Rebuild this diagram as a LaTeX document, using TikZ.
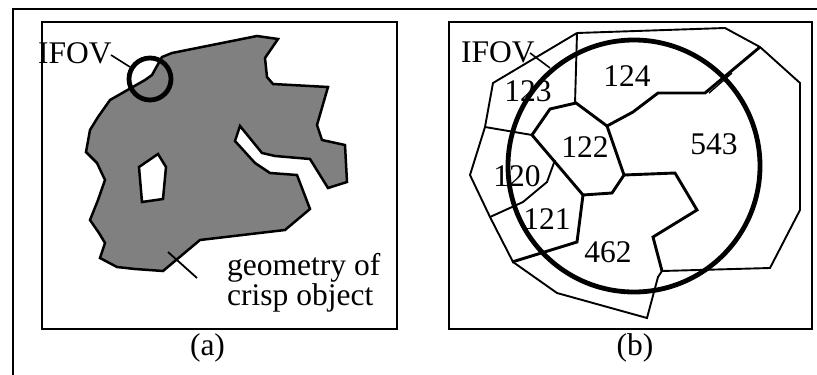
\documentclass[tikz,border=0pt]{standalone}
\usepackage{fontspec}
\setmainfont{Liberation Serif}
\begin{document}
\begin{tikzpicture}[x=1pt,y=-1pt,
  txt/.style={inner sep=0pt,font=\fontsize{31.5}{35}\selectfont},
  frameline/.style={line width=2pt},
  thinl/.style={line width=1.9pt,line join=miter},
  thickl/.style={line width=2.9pt,line join=miter},
  shapeline/.style={line width=2.5pt,line join=miter},
  ifov/.style={line width=4.8pt}]
\useasboundingbox (0,0) rectangle (817,375);
\definecolor{objgray}{RGB}{128,128,128}
% outer frame (partial)
\draw[frameline] (13,375) -- (13,9) -- (817,9);
% panel boxes
\draw[frameline] (42,22) rectangle (397,329);
\draw[frameline] (449,22) rectangle (812,329);
% ---------- panel (a)
\draw[shapeline,fill=objgray]
 (110,100) -- (98,117) -- (90,130) -- (86,152) -- (97,163) -- (105,180) -- (98,200) -- (90,220)
 -- (99,233) -- (105,243) -- (100,258) -- (117,267) -- (135,269) -- (163,271) -- (200,240)
 -- (285,230) -- (310,209) -- (297,175) -- (270,173) -- (255,163) -- (235,141) -- (240,126)
 -- (262,153) -- (275,156) -- (310,159) -- (328,188) -- (347,182) -- (345,145) -- (322,140)
 -- (317,125) -- (328,87) -- (273,84) -- (267,77) -- (265,58) -- (278,39) -- (257,36)
 -- (172,53) -- (162,57) -- (152,75) -- (145,80) -- cycle;
\draw[shapeline,fill=white] (139,167) -- (158,154) -- (166,167) -- (163,199) -- (142,202) -- cycle;
\draw[ifov] (150,79) circle[radius=21pt];
\node[txt,anchor=base west] (ifova) at (38,63) {IFOV};
\coordinate (ifovastart) at (111,55);
\coordinate (ifovaend) at (130,67);
\draw[line width=1.6pt] (ifovastart) -- (ifovaend);
\node[inner sep=0pt,font=\fontsize{31.5}{28}\selectfont,align=left,anchor=base west] (geo) at (227,305) {geometry of\\crisp object};
\coordinate (geoa) at (168,252);
\coordinate (geob) at (197,278);
\draw[line width=1.8pt] (geoa) -- (geob);
\node[txt] (capa) at (207.5,348) {(a)};
% ---------- panel (b)
% outer boundaries
\draw[thinl] (577,33) -- (725,28) -- (760,47) -- (800,83) -- (800,210) -- (770,268) -- (662,271);
\draw[thinl] (577,33) -- (493,83) -- (485,127) -- (470,175) -- (490,217) -- (513,262)
  -- (557,293) -- (647,318) -- (658,277) -- (662,271);
\draw[thinl] (485,127) -- (532,135);
\draw[thinl] (577,33) -- (575,104);
% region boundaries
\draw[thickl] (532,135) -- (550,109) -- (576,103) -- (607,126);
\draw[thickl] (607,126) -- (633,112) -- (658,93) -- (705,93) -- (760,47);
\draw[line width=1.4pt] (709,93) -- (732,73);
\draw[thickl] (607,126) -- (624,175) -- (612,193) -- (583,195);
\draw[thickl] (532,135) -- (583,195);
\draw[thickl] (624,175) -- (675,173) -- (697,210) -- (653,237) -- (662,271);
\draw[thickl] (583,195) -- (577,242) -- (512,262);
\draw[thinl] (490,217) -- (523,202) -- (547,182) -- (555,160);
% IFOV circle
\draw[ifov] (634,166) circle[radius=126pt];
\node[txt,anchor=base west] (ifovb) at (461,62) {IFOV};
\coordinate (ifovbstart) at (530,53);
\coordinate (ifovbend) at (550,68);
\draw[line width=1.6pt] (ifovbstart) -- (ifovbend);
\node[txt] (n123) at (528,91) {123};
\node[txt] (n124) at (627,76) {124};
\node[txt] (n122) at (585,147) {122};
\node[txt] (n543) at (714,144) {543};
\node[txt] (n120) at (517,176) {120};
\node[txt] (n121) at (547,219) {121};
\node[txt] (n462) at (608,252) {462};
\node[txt] (capb) at (635,348) {(b)};
\end{tikzpicture}
\end{document}
